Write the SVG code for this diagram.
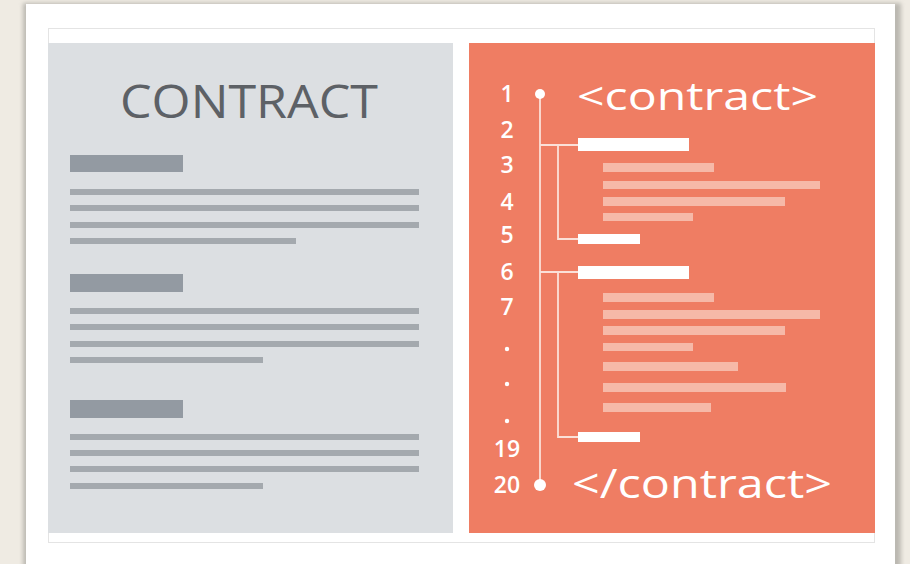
<svg xmlns="http://www.w3.org/2000/svg" width="910" height="564" viewBox="0 0 910 564">
<defs>
<style>
.gh{fill:#939aa2}
.gl{fill:#a4a9ae}
.wb{fill:#ffffff}
.pb{fill:#f6b9a8}
.num{font-family:"Open Sans","Liberation Sans",sans-serif;font-size:23px;font-weight:600;fill:#ffffff;text-anchor:middle}
.tag{font-family:"Open Sans","Liberation Sans",sans-serif;font-weight:500;fill:#ffffff}
.conn{stroke:#fbe0d8;stroke-width:1.8;fill:none}
</style>
<filter id="sh" x="-5%" y="-5%" width="110%" height="110%">
<feGaussianBlur stdDeviation="2"/>
</filter>
</defs>
<rect x="0" y="0" width="910" height="564" fill="#efebe3"/>
<rect x="23" y="3" width="878" height="566" fill="#9a9892" opacity="0.6" filter="url(#sh)"/>
<rect x="26" y="4" width="869" height="564" fill="#ffffff"/>
<rect x="48.5" y="28.5" width="826" height="514" fill="#ffffff" stroke="#e4e4e4" stroke-width="1"/>

<g id="contract-doc">
<rect x="48" y="43" width="405" height="490" fill="#dcdfe2"/>
<text x="249" y="118" font-family="Open Sans,Liberation Sans,sans-serif" font-size="45" font-weight="500" fill="#5d6166" text-anchor="middle" textLength="258" lengthAdjust="spacingAndGlyphs">CONTRACT</text>
<rect class="gh" x="70" y="155" width="113" height="17"/>
<rect class="gl" x="70" y="189" width="349" height="6"/>
<rect class="gl" x="70" y="205" width="349" height="6"/>
<rect class="gl" x="70" y="222" width="349" height="6"/>
<rect class="gl" x="70" y="238" width="226" height="6"/>
<rect class="gh" x="70" y="274" width="113" height="18"/>
<rect class="gl" x="70" y="308" width="349" height="6"/>
<rect class="gl" x="70" y="324" width="349" height="6"/>
<rect class="gl" x="70" y="341" width="349" height="6"/>
<rect class="gl" x="70" y="357" width="193" height="6"/>
<rect class="gh" x="70" y="400" width="113" height="18"/>
<rect class="gl" x="70" y="434" width="349" height="6"/>
<rect class="gl" x="70" y="450" width="349" height="6"/>
<rect class="gl" x="70" y="466" width="349" height="6"/>
<rect class="gl" x="70" y="483" width="193" height="6"/>
</g>

<g id="xml-doc">
<rect x="469" y="43" width="406" height="490" fill="#ef7d63"/>
<text class="num" x="507" y="102">1</text>
<text class="num" x="507" y="138">2</text>
<text class="num" x="507" y="173">3</text>
<text class="num" x="507" y="210">4</text>
<text class="num" x="507" y="243">5</text>
<text class="num" x="507" y="280">6</text>
<text class="num" x="507" y="315">7</text>
<circle cx="507" cy="349" r="2.2" fill="#ffffff"/>
<circle cx="507" cy="384" r="2.2" fill="#ffffff"/>
<circle cx="507" cy="421" r="2.2" fill="#ffffff"/>
<text class="num" x="507" y="457">19</text>
<text class="num" x="507" y="493">20</text>
<text class="tag" x="577" y="110" font-size="38" textLength="241" lengthAdjust="spacingAndGlyphs">&lt;contract&gt;</text>
<text class="tag" x="572" y="498" font-size="41" textLength="260" lengthAdjust="spacingAndGlyphs">&lt;/contract&gt;</text>

<rect class="wb" x="578" y="138" width="111" height="13"/>
<rect class="pb" x="603" y="163" width="111" height="9"/>
<rect class="pb" x="603" y="181" width="217" height="8"/>
<rect class="pb" x="603" y="197" width="182" height="9"/>
<rect class="pb" x="603" y="213" width="90" height="8"/>
<rect class="wb" x="578" y="234" width="62" height="10"/>

<rect class="wb" x="578" y="266" width="111" height="13"/>
<rect class="pb" x="603" y="293" width="111" height="9"/>
<rect class="pb" x="603" y="310" width="217" height="9"/>
<rect class="pb" x="603" y="326" width="182" height="9"/>
<rect class="pb" x="603" y="343" width="90" height="8"/>
<rect class="pb" x="603" y="362" width="135" height="9"/>
<rect class="pb" x="603" y="383" width="183" height="9"/>
<rect class="pb" x="603" y="403" width="108" height="9"/>
<rect class="wb" x="578" y="432" width="62" height="10"/>
</g>

<g id="connectors">
<path class="conn" d="M540 94 V485"/>
<path class="conn" d="M540 145 H578 M558 145 V239 H578"/>
<path class="conn" d="M540 272 H578 M558 272 V437 H578"/>
<circle cx="540" cy="94" r="5" fill="#ffffff"/>
<circle cx="540" cy="485" r="6" fill="#ffffff"/>
</g>
</svg>
